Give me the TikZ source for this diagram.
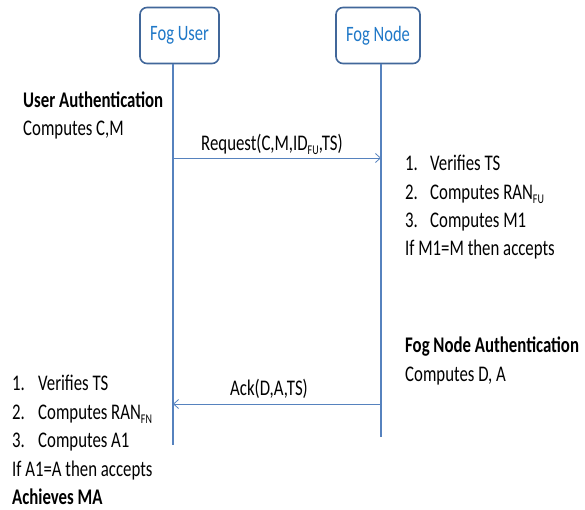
\documentclass[tikz,border=0pt]{standalone}
\usepackage{fontspec}
\setmainfont{Carlito}
\usetikzlibrary{arrows.meta}
\definecolor{boxedge}{HTML}{41679A}
\definecolor{boxtext}{HTML}{1F78C8}
\definecolor{lifeline}{HTML}{5682BE}
% narrow, tall lettering
\newcommand\tall[1]{\scalebox{1}[1.33]{#1}}
\newcommand\lowsub[1]{\raisebox{-0.45ex}{\fontsize{10}{10}\selectfont #1}}
\begin{document}
\begin{tikzpicture}[x=1pt,y=-1pt,
  actor/.style={draw=boxedge,line width=1.6pt,rounded corners=7pt,fill=white,
    text=boxtext,font=\fontsize{16.5}{16.5}\selectfont,minimum height=56pt,inner sep=0pt},
  life/.style={draw=lifeline,line width=1.4pt},
  msg/.style={draw=lifeline,line width=0.8pt,-{Straight Barb[length=5pt,width=9pt]}},
  txt/.style={anchor=base west,inner sep=0pt,font=\fontsize{16.8}{16.8}\selectfont},
  lbl/.style={txt,anchor=base},
  bold/.style={txt,font=\fontsize{16.8}{16.8}\selectfont\bfseries}]
\useasboundingbox (0,0) rectangle (585,509);
% participants
\node[actor,minimum width=79pt] (fu) at (179.5,35.5) {\tall{Fog User}};
\node[actor,minimum width=84pt] (fn) at (378,35.5) {\tall{Fog Node}};
% lifelines
\coordinate (fuend) at (173,445);
\coordinate (fnend) at (381,437);
\draw[life] (fu.south -| fuend) -- (fuend);
\draw[life] (fn.south -| fnend) -- (fnend);
% request message
\coordinate (req1) at (173,158);
\coordinate (req2) at (381,158);
\draw[msg] (req1) -- (req2);
\node[lbl] (reql) at (272,150) {\tall{Request(C,M,ID\lowsub{FU},TS)}};
% ack message
\coordinate (ack1) at (381,404);
\coordinate (ack2) at (173,404);
\draw[msg] (ack1) -- (ack2);
\node[lbl] (ackl) at (269,395) {\tall{Ack(D,A,TS)}};
% user side, first step
\node[bold] (ua) at (23,107) {\tall{User Authentication}};
\node[txt] (ucm) at (23,135) {\tall{Computes C,M}};
% node side, verification
\node[txt] (n1) at (405,170) {\tall{1.}};
\node[txt] (n1t) at (430,170) {\tall{Verifies TS}};
\node[txt] (n2) at (405,199) {\tall{2.}};
\node[txt] (n2t) at (430,199) {\tall{Computes RAN\lowsub{FU}}};
\node[txt] (n3) at (405,227) {\tall{3.}};
\node[txt] (n3t) at (430,227) {\tall{Computes M1}};
\node[txt] (n4) at (405,255) {\tall{If M1=M then accepts}};
% node side, second step
\node[bold] (na) at (405,352) {\tall{Fog Node Authentication}};
\node[txt] (ncd) at (405,381) {\tall{Computes D, A}};
% user side, verification
\node[txt] (u1) at (12,390) {\tall{1.}};
\node[txt] (u1t) at (38,390) {\tall{Verifies TS}};
\node[txt] (u2) at (12,419) {\tall{2.}};
\node[txt] (u2t) at (38,419) {\tall{Computes RAN\lowsub{FN}}};
\node[txt] (u3) at (12,447) {\tall{3.}};
\node[txt] (u3t) at (38,447) {\tall{Computes A1}};
\node[txt] (u4) at (12,476) {\tall{If A1=A then accepts}};
\node[bold] (uma) at (12,504) {\tall{Achieves MA}};
\end{tikzpicture}
\end{document}
